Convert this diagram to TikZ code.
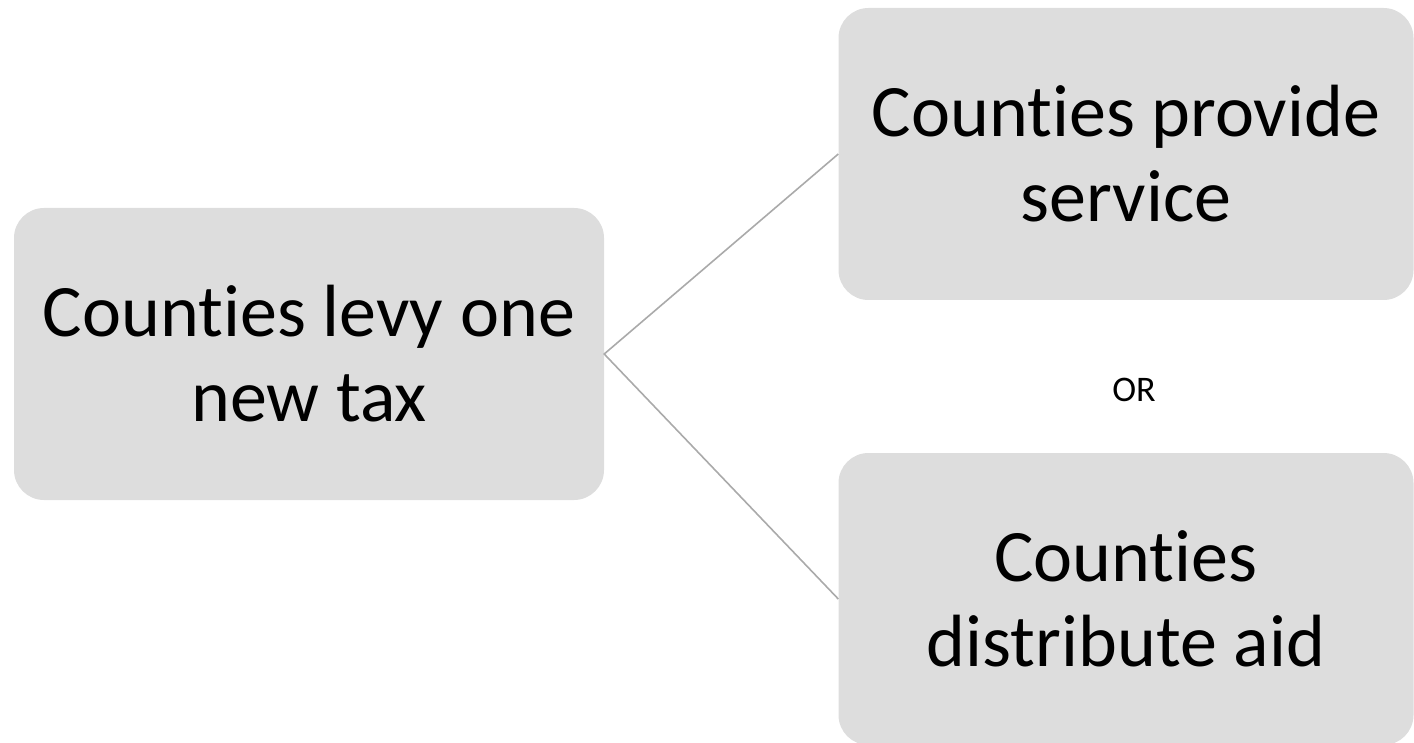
\documentclass[tikz,border=0pt]{standalone}
\usepackage{fontspec}
\setmainfont[RawFeature={-liga;-clig;-calt;-dlig;-rlig}]{Carlito}
\definecolor{boxfill}{RGB}{221,221,221}
\definecolor{linkgray}{RGB}{170,170,170}
% plain "Counties", with the t and i set apart
\newcommand\Counties{Count\kern0pt ies}
\tikzset{
  stepbox/.style={fill=boxfill, rounded corners=30pt, inner sep=0pt,
    align=center, font=\fontsize{74}{85}\selectfont},
  link/.style={draw=linkgray, line width=1.6pt}
}
\begin{document}
\begin{tikzpicture}[x=1pt, y=-1pt]
  \useasboundingbox (0,0) rectangle (1414,743);
  \clip (0,0) rectangle (1414,743);
  \node[stepbox, minimum width=590pt, minimum height=292pt] (levy) at (309,354)
    {\Counties{} levy one\\new tax};
  \node[stepbox, minimum width=575pt, minimum height=292pt] (serv) at (1126,154)
    {\Counties{} provide\\service};
  \node[stepbox, minimum width=575pt, minimum height=292pt] (aid) at (1126,599)
    {\Counties\\distribute aid};
  \node[font=\fontsize{36}{42}\selectfont] (or) at (1134,390) {OR};
  \draw[link] (serv.west) -- (levy.east) -- (aid.west);
\end{tikzpicture}
\end{document}
